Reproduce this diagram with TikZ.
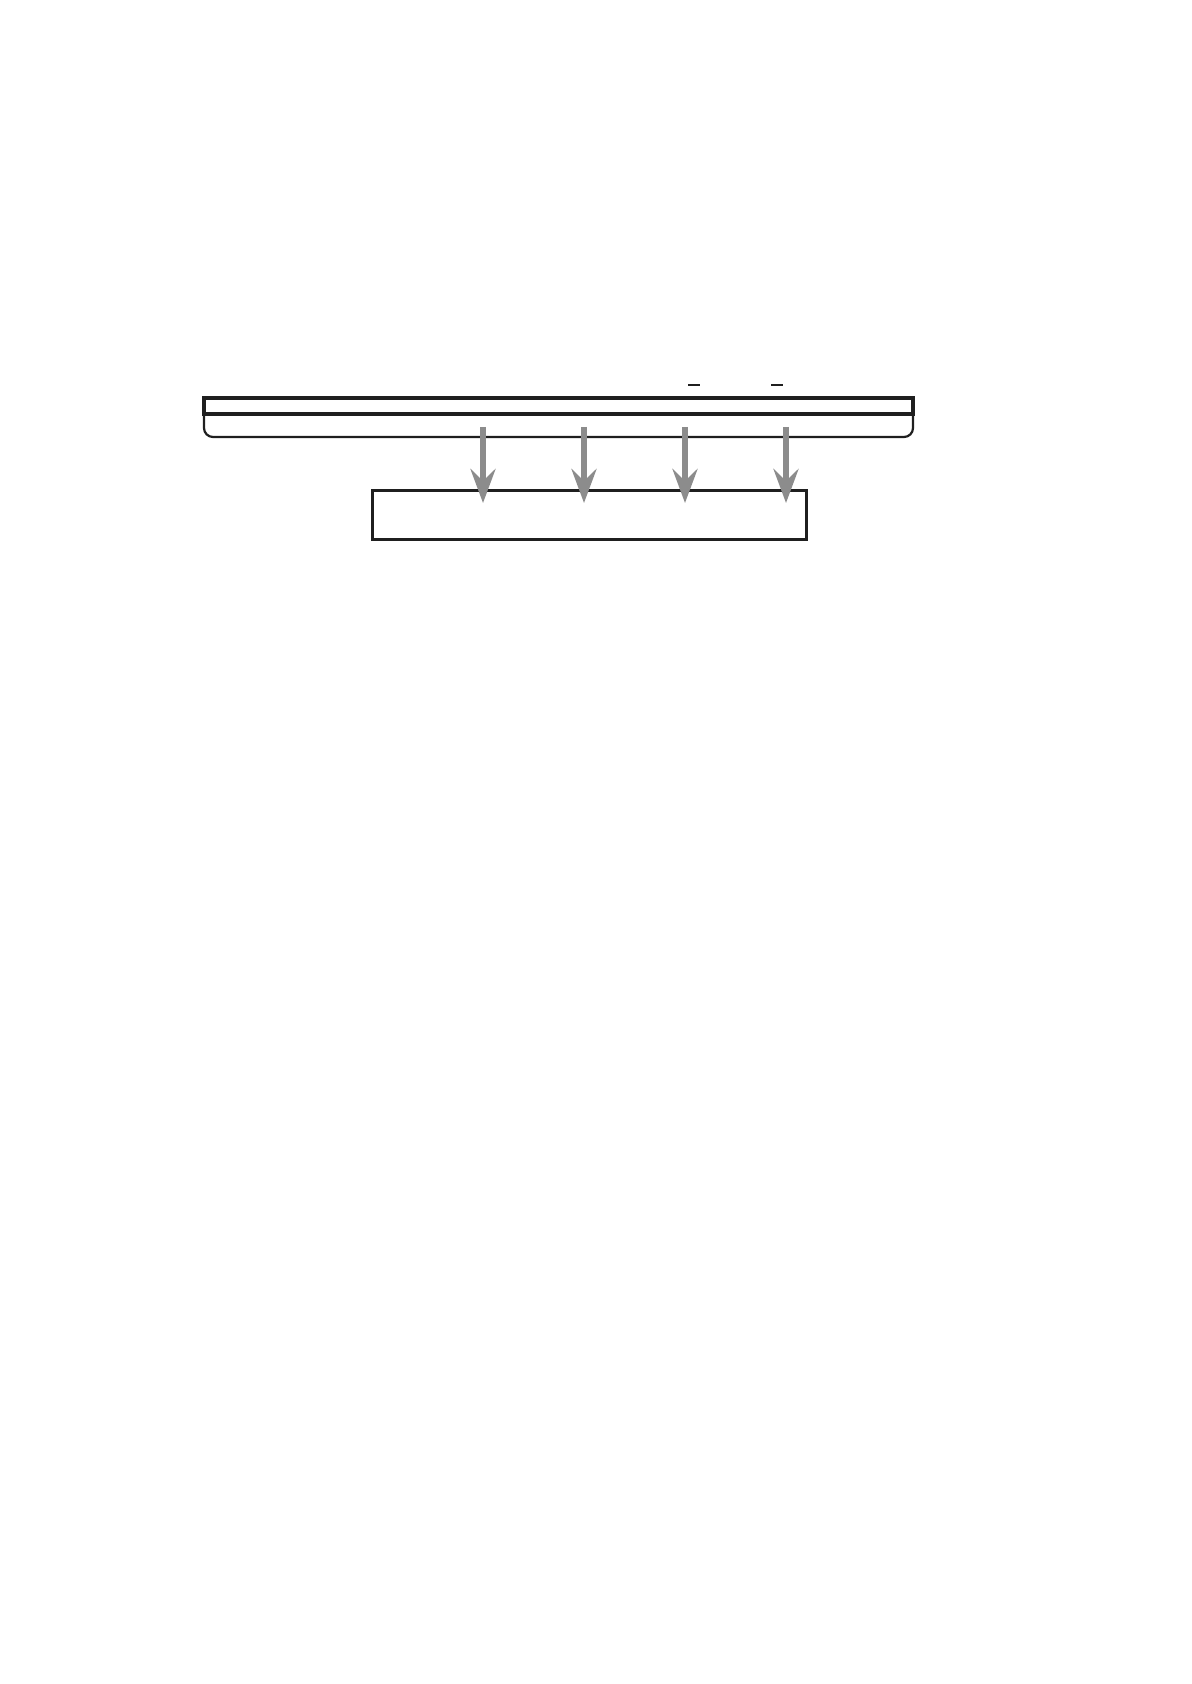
\documentclass[tikz,border=0pt]{standalone}
\usetikzlibrary{arrows.meta}
\begin{document}
\begin{tikzpicture}[x=0.5pt,y=-0.5pt,
  outline/.style={draw=black!88, line width=1.4pt},
  barline/.style={draw=black!88, line width=1.7pt},
  thinline/.style={draw=black!88, line width=1.1pt},
  flowarrow/.style={draw=black!45, line width=2.8pt, -{Stealth[length=17pt,width=12.5pt,inset=6pt]}},
  dashmark/.style={draw=black!88, line width=1pt}]
\useasboundingbox (0,0) rectangle (1191,1684);
% bar
\draw[thinline, rounded corners=4.5pt] (204,414) -- (204,437) -- (913,437) -- (913,414);
\draw[barline] (204,398) rectangle (913,414);
% box
\node[outline, minimum width=217pt, minimum height=24.5pt, inner sep=0pt, anchor=north west] (box) at (371,489) {};
% start and end coordinates
\foreach \i/\x in {1/483,2/584,3/685,4/786}{
  \coordinate (s\i) at (\x,427);
  \coordinate (e\i) at (\x,503);
}
\foreach \i in {1,...,4}{ \draw[flowarrow] (s\i) -- (e\i); }
% small dashes
\coordinate (d1a) at (688,385); \coordinate (d1b) at (700,385);
\coordinate (d2a) at (771,385); \coordinate (d2b) at (783,385);
\draw[dashmark] (d1a) -- (d1b);
\draw[dashmark] (d2a) -- (d2b);
\end{tikzpicture}
\end{document}
